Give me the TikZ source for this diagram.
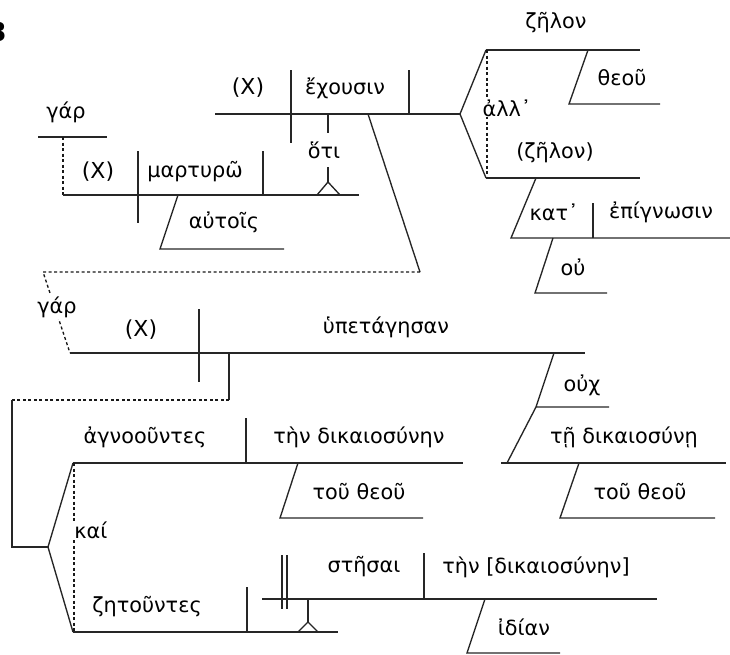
\documentclass[tikz,border=0pt]{standalone}
\usepackage{fontspec}
\setmainfont{DejaVu Sans}
\begin{document}
\begin{tikzpicture}[x=1pt,y=-1pt,
  ln/.style={line width=1.35pt, draw=black!85},
  dotl/.style={line width=1.35pt, draw=black!90, dash pattern=on 3pt off 2.5pt},
  gk/.style={font=\fontsize{20.8}{24}\selectfont, inner sep=1pt},
  xx/.style={font=\fontsize{22}{26}\selectfont, inner sep=1pt},
  wb/.style={fill=white, inner sep=2pt}]
\useasboundingbox (0,0) rectangle (730,654);
\node[anchor=east, font=\fontsize{26}{30}\selectfont\bfseries, inner sep=0pt] (num) at (7,32) {3};

% ---- clause: (X) martyrw
\draw[ln] (38,137) -- (107,137);
\node[gk] (gar1) at (66,112) {γάρ};
\draw[dotl] (63,137) -- (63,195);
\draw[ln] (63,195) -- (359,195);
\draw[ln] (138,151) -- (138,223);
\draw[ln] (263,151) -- (263,195);
\node[xx] (x1) at (98,172) {(X)};
\node[gk] (martyrw) at (195,172) {μαρτυρῶ};
\draw[ln] (178,195) -- (160,249) -- (284,249);
\node[gk] (autois) at (224,222) {αὐτοῖς};
% pedestal hoti
\draw[ln] (317,195) -- (328,182) -- (340,195);
\draw[ln] (328,182) -- (328,167);
\node[gk] (hoti) at (324,150) {ὅτι};
\draw[ln] (328,114) -- (328,133);

% ---- clause: (X) echousin
\draw[ln] (215,114) -- (460,114);
\draw[ln] (291,70) -- (291,143);
\draw[ln] (409,70) -- (409,114);
\node[xx] (x2) at (248,88) {(X)};
\node[gk] (echousin) at (345,88) {ἔχουσιν};
\draw[ln] (486,50) -- (460,114) -- (486,178);
\draw[ln] (486,50) -- (640,50);
\node[gk] (zelon) at (556,23) {ζῆλον};
\draw[ln] (588,50) -- (569,104) -- (660,104);
\node[gk] (theou1) at (622,78) {θεοῦ};
\draw[dotl] (487,50) -- (487,178);
\node[gk, wb, inner sep=1pt] (all) at (507,108) {ἀλλ᾽};
\draw[ln] (486,178) -- (640,178);
\node[gk] (zelon2) at (555,153) {(ζῆλον)};
\draw[ln] (536,178) -- (511,238) -- (730,238);
\node[gk] (kat) at (554,212) {κατ᾽};
\draw[ln] (593,203) -- (593,238);
\node[gk] (epign) at (661,212) {ἐπίγνωσιν};
\draw[ln] (553,238) -- (535,293) -- (607,293);
\node[gk] (ou) at (573,267) {οὐ};

% connection to lower clause
\draw[ln] (368,114) -- (420,272);
\draw[dotl] (420,272) -- (43,272) -- (70,353);
\node[gk, wb] (gar2) at (57,307) {γάρ};

% ---- clause: (X) hypetagesan
\draw[ln] (70,353) -- (585,353);
\draw[ln] (199,309) -- (199,382);
\node[xx] (x3) at (141,330) {(X)};
\node[gk] (hypet) at (386,327) {ὑπετάγησαν};
\draw[ln] (554,353) -- (536,407) -- (609,407);
\node[gk] (ouch) at (582,385) {οὐχ};
\draw[ln] (536,407) -- (507,463);
\draw[ln] (501,463) -- (726,463);
\node[gk] (tedik) at (624,437) {τῇ δικαιοσύνῃ};
\draw[ln] (579,463) -- (560,518) -- (715,518);
\node[gk] (toutheou2) at (640,492) {τοῦ θεοῦ};

% participles
\draw[ln] (229,353) -- (229,400);
\draw[dotl] (229,400) -- (12,400);
\draw[ln] (12,400) -- (12,547) -- (48,547);
\draw[ln] (73,463) -- (48,547) -- (73,632);
\draw[ln] (73,463) -- (463,463);
\draw[ln] (246,418) -- (246,463);
\node[gk] (agnoo) at (145,437) {ἀγνοοῦντες};
\node[gk] (tendik) at (359,437) {τὴν δικαιοσύνην};
\draw[ln] (298,463) -- (280,518) -- (423,518);
\node[gk] (toutheou1) at (359,492) {τοῦ θεοῦ};
\draw[dotl] (74,463) -- (74,632);
\node[gk, wb, inner sep=1pt] (kai) at (91,530) {καί};
\draw[ln] (73,632) -- (338,632);
\draw[ln] (247,587) -- (247,632);
\node[gk] (zetou) at (147,607) {ζητοῦντες};
\draw[ln] (298,632) -- (308,622) -- (318,632);
\draw[ln] (308,622) -- (308,599);
\draw[ln] (262,599) -- (657,599);
\draw[ln] (282,555) -- (282,609);
\draw[ln] (287,555) -- (287,609);
\draw[ln] (424,553) -- (424,599);
\node[gk] (stesai) at (364,567) {στῆσαι};
\node[gk] (tendik2) at (536,567) {τὴν [δικαιοσύνην]};
\draw[ln] (485,599) -- (467,653) -- (560,653);
\node[gk] (idian) at (524,627) {ἰδίαν};
\end{tikzpicture}
\end{document}
